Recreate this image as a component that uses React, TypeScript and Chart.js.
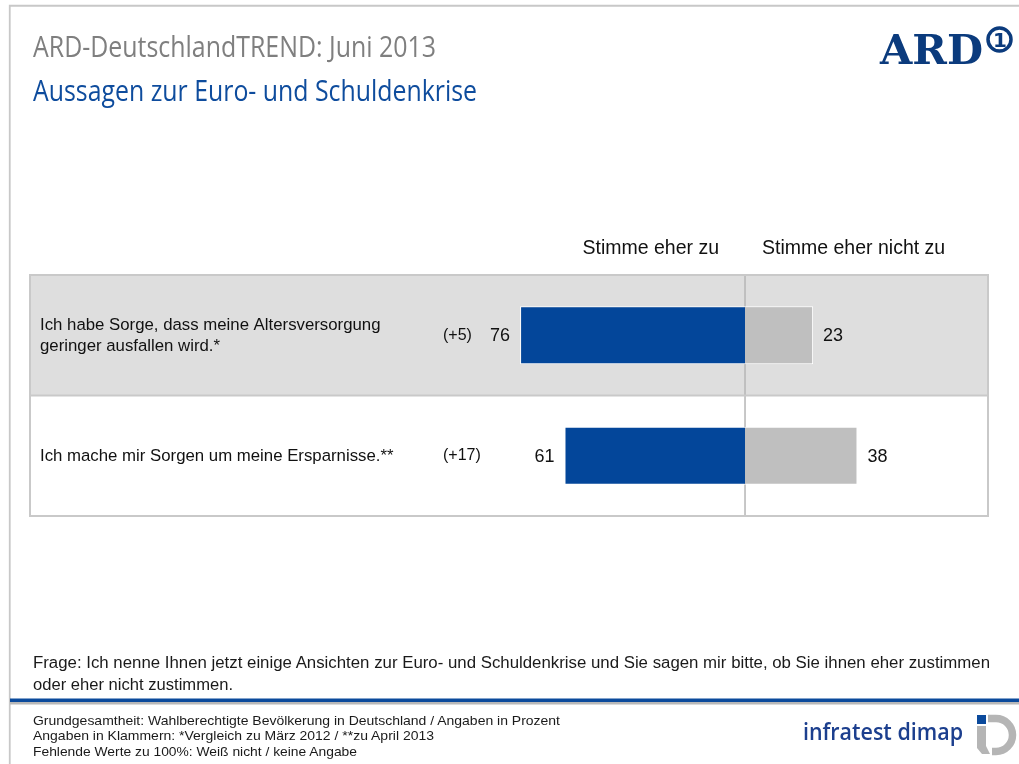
import React, { useEffect, useRef } from "react";
import { Chart, registerables } from "chart.js";

Chart.register(...registerables);

// ---- data ----
const rowLabels: string[][] = [
  ["Ich habe Sorge, dass meine Altersversorgung", "geringer ausfallen wird.*"],
  ["Ich mache mir Sorgen um meine Ersparnisse.**"],
];
const changeLabels = ["(+5)", "(+17)"];
const agreeValues = [76, 61];
const disagreeValues = [23, 38];
const seriesLabels = ["Stimme eher zu", "Stimme eher nicht zu"];

const titleText = "ARD-DeutschlandTREND: Juni 2013";
const subtitleText = "Aussagen zur Euro- und Schuldenkrise";
const questionLines = [
  "Frage: Ich nenne Ihnen jetzt einige Ansichten zur Euro- und Schuldenkrise und Sie sagen mir bitte, ob Sie ihnen eher zustimmen",
  "oder eher nicht zustimmen.",
];
const footerLines = [
  "Grundgesamtheit: Wahlberechtigte Bevölkerung in Deutschland / Angaben in Prozent",
  "Angaben in Klammern: *Vergleich zu März 2012 / **zu April 2013",
  "Fehlende Werte zu 100%: Weiß nicht / keine Angabe",
];

const BLUE = "#03469a";
const GREY_BAR = "#bfbfbf";
const SANS = '"Liberation Sans", Arial, sans-serif';

const tablePlugin = {
  id: "tableBackground",
  beforeDatasetsDraw(chart: any) {
    const { ctx, chartArea, scales } = chart;
    const { left, right, top, bottom } = chartArea;
    const n = chart.data.labels.length;
    const rowH = (bottom - top) / n;
    ctx.save();
    ctx.fillStyle = "#dedede";
    ctx.fillRect(left, top, right - left, rowH);
    const cx = scales.x.getPixelForValue(0);
    ctx.strokeStyle = "#b5b5b5";
    ctx.lineWidth = 1.5;
    ctx.beginPath();
    ctx.moveTo(cx, top);
    ctx.lineTo(cx, bottom);
    ctx.stroke();
    ctx.strokeStyle = "#c9c9c9";
    ctx.lineWidth = 2;
    ctx.strokeRect(left, top, right - left, bottom - top);
    for (let i = 1; i < n; i++) {
      const yy = top + i * rowH;
      ctx.beginPath();
      ctx.moveTo(left, yy);
      ctx.lineTo(right, yy);
      ctx.stroke();
    }
    ctx.restore();
  },
};

const labelPlugin = {
  id: "valueLabels",
  afterDatasetsDraw(chart: any) {
    const { ctx, chartArea, scales } = chart;
    const cx = scales.x.getPixelForValue(0);
    ctx.save();
    ctx.fillStyle = "#111111";
    ctx.textBaseline = "middle";
    ctx.font = `19.5px ${SANS}`;
    ctx.textAlign = "right";
    ctx.fillText(seriesLabels[0], cx - 26, chartArea.top - 26);
    ctx.textAlign = "left";
    ctx.fillText(seriesLabels[1], cx + 17, chartArea.top - 26);

    const m0 = chart.getDatasetMeta(0);
    const m1 = chart.getDatasetMeta(1);
    m0.data.forEach((bar: any, i: number) => {
      const { x, y } = bar.getProps(["x", "y"], true);
      ctx.font = `18px ${SANS}`;
      ctx.textAlign = "right";
      ctx.fillText(String(agreeValues[i]), x - 10, y + 1);
      ctx.font = `16px ${SANS}`;
      ctx.textAlign = "left";
      ctx.fillText(changeLabels[i], chartArea.left + 413, y);
      const lines = rowLabels[i];
      const lh = 21;
      const y0 = y - ((lines.length - 1) * lh) / 2 + 1;
      ctx.font = `16.8px ${SANS}`;
      lines.forEach((l, k) => ctx.fillText(l, chartArea.left + 10, y0 + k * lh));
    });
    m1.data.forEach((bar: any, i: number) => {
      const { x, y } = bar.getProps(["x", "y"], true);
      ctx.font = `18px ${SANS}`;
      ctx.textAlign = "left";
      ctx.fillText(String(disagreeValues[i]), x + 10, y + 1);
    });
    ctx.restore();
  },
};

function BarChart() {
  const ref = useRef<HTMLCanvasElement | null>(null);
  useEffect(() => {
    if (!ref.current) return;
    const chart = new Chart(ref.current, {
      type: "bar",
      data: {
        labels: rowLabels.map((l) => l.join(" ")),
        datasets: [
          {
            label: seriesLabels[0],
            data: agreeValues.map((v) => -v),
            backgroundColor: BLUE,
            borderColor: "#ffffff",
            borderWidth: 1,
            borderSkipped: "start",
          },
          {
            label: seriesLabels[1],
            data: disagreeValues,
            backgroundColor: GREY_BAR,
            borderColor: "#ffffff",
            borderWidth: 1,
            borderSkipped: "start",
          },
        ],
      },
      options: {
        indexAxis: "y",
        animation: false,
        responsive: false,
        devicePixelRatio: 1,
        datasets: { bar: { categoryPercentage: 1, barPercentage: 0.48 } },
        layout: { padding: { left: 30, right: 31, top: 275, bottom: 248 } },
        scales: {
          x: { stacked: true, display: false, min: -241.6, max: 82.1 },
          y: { stacked: true, display: false },
        },
        plugins: { legend: { display: false }, tooltip: { enabled: false } },
      },
      plugins: [tablePlugin, labelPlugin],
    } as any);
    return () => chart.destroy();
  }, []);
  return (
    <canvas
      ref={ref}
      width={1019}
      height={764}
      style={{ position: "absolute", left: 0, top: 0, width: 1019, height: 764 }}
    />
  );
}

function Overlay() {
  return (
    <svg
      width={1019}
      height={764}
      style={{ position: "absolute", left: 0, top: 0, pointerEvents: "none" }}
    >
      {/* frame */}
      <path d="M9.75,764 V5.75 H1019" fill="none" stroke="#c8c8c8" strokeWidth={1.8} />
      {/* titles */}
      <text x={33} y={57} fontFamily='"Open Sans", sans-serif' fontSize={29} fill="#7f7f7f"
        textLength={403} lengthAdjust="spacingAndGlyphs">{titleText}</text>
      <text x={33} y={101} fontFamily='"Open Sans", sans-serif' fontSize={29} fill="#0e4c9d"
        textLength={444} lengthAdjust="spacingAndGlyphs">{subtitleText}</text>
      {/* ARD logo */}
      <text x={880} y={63.5} fontFamily='"DejaVu Serif", serif' fontWeight="bold" fontSize={41} fill="#0b3b7d"
        textLength={103} lengthAdjust="spacingAndGlyphs">ARD</text>
      <circle cx={999.5} cy={39.5} r={11.5} fill="none" stroke="#0b3b7d" strokeWidth={3.5} />
      <text x={1000} y={47} textAnchor="middle" fontFamily='"DejaVu Sans", sans-serif' fontWeight="bold"
        fontSize={20} fill="#0b3b7d">1</text>
      {/* question */}
      <text x={33} y={667.5} fontFamily={SANS} fontSize={16} fill="#1a1a1a"
        textLength={957} lengthAdjust="spacingAndGlyphs">{questionLines[0]}</text>
      <text x={33} y={689.5} fontFamily={SANS} fontSize={16} fill="#1a1a1a"
        textLength={200} lengthAdjust="spacingAndGlyphs">{questionLines[1]}</text>
      {/* footer rules */}
      <rect x={10} y={698.5} width={1009} height={3.5} fill="#0b4a9c" />
      <rect x={10} y={702} width={1009} height={2.5} fill="#b8b8b8" />
      {/* footer notes */}
      <text x={33} y={724.5} fontFamily={SANS} fontSize={13} fill="#1a1a1a"
        textLength={527} lengthAdjust="spacingAndGlyphs">{footerLines[0]}</text>
      <text x={33} y={740} fontFamily={SANS} fontSize={13} fill="#1a1a1a"
        textLength={401} lengthAdjust="spacingAndGlyphs">{footerLines[1]}</text>
      <text x={33} y={755.5} fontFamily={SANS} fontSize={13} fill="#1a1a1a"
        textLength={324} lengthAdjust="spacingAndGlyphs">{footerLines[2]}</text>
      {/* infratest dimap logo */}
      <text x={803} y={740} fontFamily='"Open Sans", sans-serif' fontWeight={600} fontSize={23} fill="#1c3f8e"
        textLength={160} lengthAdjust="spacingAndGlyphs">infratest dimap</text>
      <rect x={977} y={715} width={9} height={9} fill="#0b4a9c" />
      <path d="M977,726 H986 V746 L990,754 H982 L977,748 Z" fill="#b5b5b5" />
      <path d="M988,718.5 H996 A16.5,16.5 0 0 1 996,751.5 H992" fill="none" stroke="#b5b5b5" strokeWidth={7.5} />
    </svg>
  );
}

export default function App() {
  return (
    <div
      style={{
        position: "fixed",
        left: 0,
        top: 0,
        width: 1019,
        height: 764,
        background: "#ffffff",
        overflow: "hidden",
      }}
    >
      <BarChart />
      <Overlay />
    </div>
  );
}
